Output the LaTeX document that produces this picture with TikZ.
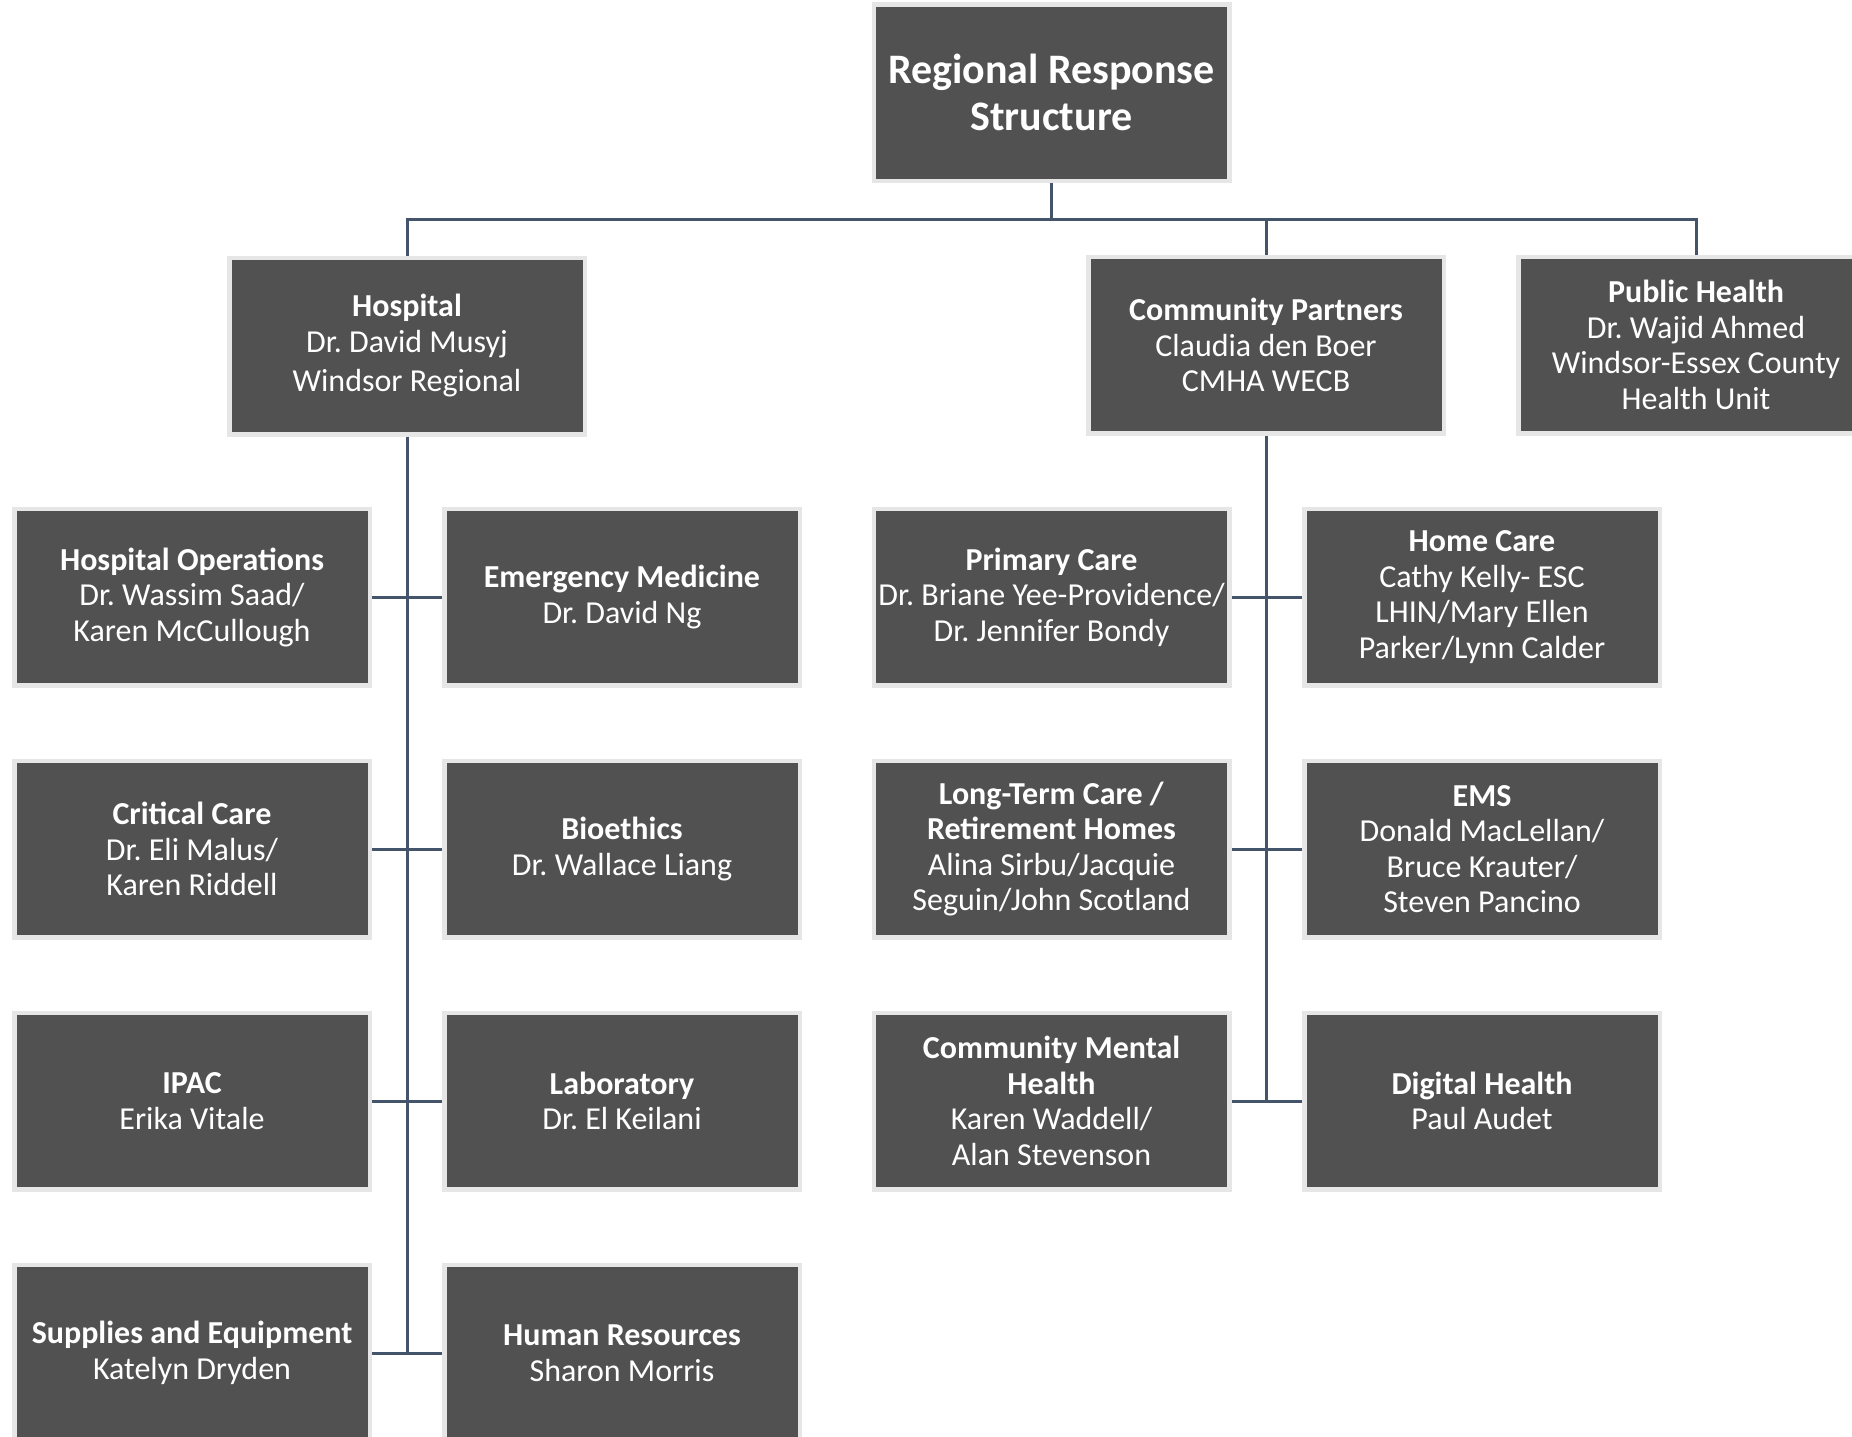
\documentclass[tikz,border=0pt]{standalone}
\usepackage{fontspec}
\setmainfont{Carlito}
\frenchspacing
\definecolor{boxfill}{HTML}{515151}
\definecolor{boxedge}{HTML}{E7E6E6}
\definecolor{conncol}{HTML}{44546A}
\begin{document}
\begin{tikzpicture}[x=1pt,y=-1pt,
  box/.style={draw=boxedge, line width=4.5pt, fill=boxfill, text=white,
    minimum width=355.5pt, minimum height=176.5pt, align=center, inner sep=0pt,
    font=\fontsize{32}{35.5}\selectfont},
  link/.style={draw=conncol, line width=3pt}]
\useasboundingbox (0,0) rectangle (1852,1436);
% top
\node[box, font=\bfseries\fontsize{42}{47}\selectfont] (top) at (1051.5,92.5) {Regional Response\\Structure};
% level 1
\node[box] (hosp) at (407,346) {\textbf{Hospital}\\Dr. David Musyj\\[4pt]Windsor Regional};
\node[box] (comm) at (1266,345) {\textbf{Community Partners}\\Claudia den Boer\\CMHA WECB};
\node[box] (pub) at (1696,345) {\textbf{Public Health}\\Dr. Wajid Ahmed\\Windsor-Essex County\\Health Unit};
% hospital children
\node[box] (hops) at (192,597) {\textbf{Hospital Operations}\\Dr. Wassim Saad/\\Karen McCullough};
\node[box] (emerg) at (622,597) {\textbf{Emergency Medicine}\\Dr. David Ng};
\node[box] (crit) at (192,849) {\textbf{Critical Care}\\Dr. Eli Malus/\\Karen Riddell};
\node[box] (bioe) at (622,849) {\textbf{Bioethics}\\Dr. Wallace Liang};
\node[box] (ipac) at (192,1101) {\textbf{IPAC}\\Erika Vitale};
\node[box] (lab) at (622,1101) {\textbf{Laboratory}\\Dr. El Keilani};
\node[box] (supp) at (192,1353) {\textbf{Supplies and Equipment}\\Katelyn Dryden};
\node[box] (hr) at (622,1353) {\textbf{Human Resources}\\Sharon Morris};
% community children
\node[box] (prim) at (1051.5,597) {\textbf{Primary Care}\\Dr. Briane Yee-Providence/\\Dr. Jennifer Bondy};
\node[box] (home) at (1482,597) {\textbf{Home Care}\\Cathy Kelly- ESC\\LHIN/Mary Ellen\\Parker/Lynn Calder};
\node[box] (ltc) at (1051.5,849) {\textbf{Long-Term Care /}\\\textbf{Retirement Homes}\\Alina Sirbu/Jacquie\\Seguin/John Scotland};
\node[box] (ems) at (1482,849) {\textbf{EMS}\\Donald MacLellan/\\Bruce Krauter/\\Steven Pancino};
\node[box] (cmh) at (1051.5,1101) {\textbf{Community Mental}\\\textbf{Health}\\Karen Waddell/\\Alan Stevenson};
\node[box] (dig) at (1482,1101) {\textbf{Digital Health}\\Paul Audet};
% connectors
\coordinate (j0) at (1051.5,219);
\draw[link] (top.south) -- (j0);
\draw[link] (hosp.north) -- (hosp.north |- j0) -- (pub.north |- j0) -- (pub.north);
\draw[link] (comm.north) -- (comm.north |- j0);
\draw[link] (hosp.south) -- (hosp.south |- supp.east);
\draw[link] (hops.east) -- (emerg.west);
\draw[link] (crit.east) -- (bioe.west);
\draw[link] (ipac.east) -- (lab.west);
\draw[link] (supp.east) -- (hr.west);
\draw[link] (comm.south) -- (comm.south |- cmh.east);
\draw[link] (prim.east) -- (home.west);
\draw[link] (ltc.east) -- (ems.west);
\draw[link] (cmh.east) -- (dig.west);
\end{tikzpicture}
\end{document}
